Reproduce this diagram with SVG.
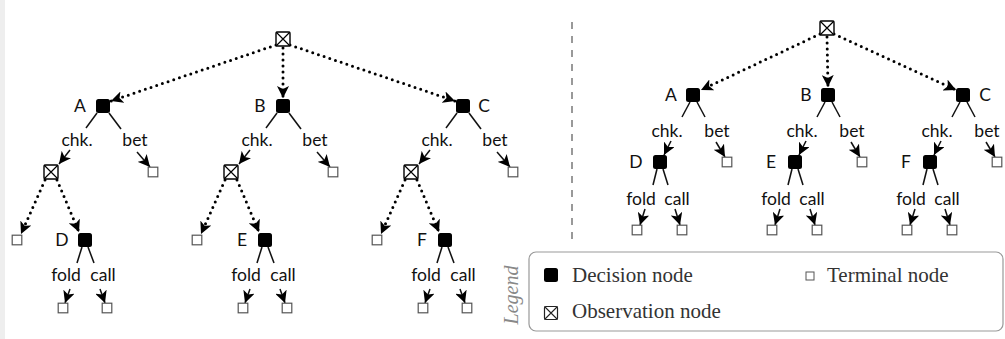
<svg xmlns="http://www.w3.org/2000/svg" width="1005" height="339" viewBox="0 0 1005 339">
<style>
.dec{fill:#000}
.obs{fill:#fff;stroke:#000;stroke-width:1.4}
.obx{stroke:#000;stroke-width:1.2;fill:none}
.term{fill:#fff;stroke:#555;stroke-width:1.2}
.lbl{font-family:Lato,"Liberation Sans",sans-serif;font-size:17.5px;fill:#111}
.mid{text-anchor:middle}
.sol{stroke:#111;stroke-width:1.5;fill:none;marker-end:url(#ah)}
.sl{stroke:#111;stroke-width:1.5;fill:none}
.dot{stroke:#000;stroke-width:3;stroke-linecap:round;stroke-dasharray:0 6;fill:none;marker-end:url(#ah)}
.leg{font-family:"Liberation Serif",serif;font-size:21px;fill:#333}
</style>
<defs>
<marker id="ah" markerUnits="userSpaceOnUse" markerWidth="12" markerHeight="12" viewBox="0 0 10 10" refX="10" refY="5" orient="auto">
<path d="M0,0 L10,5 L0,10 L2.5,5 z" fill="#000"/>
</marker>
<g id="sobs"><rect class="obs" x="-7" y="-7" width="14" height="14" rx="1.5"/><path class="obx" d="M-7,-7 L7,7 M7,-7 L-7,7"/></g>
<rect id="sdec" class="dec" x="-7" y="-7" width="14" height="14" rx="2.5"/>
<rect id="sterm" class="term" x="-4.8" y="-4.8" width="9.6" height="9.6"/>
</defs>
<rect x="0" y="0" width="5" height="339" fill="#eeeeee"/>
<rect width="1000" height="339" x="5" fill="#fff"/>

<g id="connectors">
<path class="dot" d="M276,45 L111,101"/>
<path class="dot" d="M283,48 L283,98"/>
<path class="dot" d="M290,45 L455,101"/>
<g>
<path class="sl" d="M97,113 L86,128"/><path class="sol" d="M70,150 L59,164"/>
<path class="sl" d="M109,113 L121,129"/><path class="sol" d="M137,152 L150,167"/>
<path class="dot" d="M45,180 L21,234"/><path class="dot" d="M57,180 L79,232"/>
<path class="sl" d="M82,247 L77,263"/><path class="sol" d="M70,289 L65,303"/>
<path class="sl" d="M88,247 L94,263"/><path class="sol" d="M100,289 L105,303"/>
</g>
<g transform="translate(180,0)">
<path class="sl" d="M97,113 L86,128"/><path class="sol" d="M70,150 L59,164"/>
<path class="sl" d="M109,113 L121,129"/><path class="sol" d="M137,152 L150,167"/>
<path class="dot" d="M45,180 L21,234"/><path class="dot" d="M57,180 L79,232"/>
<path class="sl" d="M82,247 L77,263"/><path class="sol" d="M70,289 L65,303"/>
<path class="sl" d="M88,247 L94,263"/><path class="sol" d="M100,289 L105,303"/>
</g>
<g transform="translate(360,0)">
<path class="sl" d="M97,113 L86,128"/><path class="sol" d="M70,150 L59,164"/>
<path class="sl" d="M109,113 L121,129"/><path class="sol" d="M137,152 L150,167"/>
<path class="dot" d="M45,180 L21,234"/><path class="dot" d="M57,180 L79,232"/>
<path class="sl" d="M82,247 L77,263"/><path class="sol" d="M70,289 L65,303"/>
<path class="sl" d="M88,247 L94,263"/><path class="sol" d="M100,289 L105,303"/>
</g>
<path class="dot" d="M820,34 L701,90"/>
<path class="dot" d="M827,37 L828,87"/>
<path class="dot" d="M834,34 L956,90"/>
<g>
<path class="sl" d="M690,102 L682,117"/><path class="sol" d="M671,141 L664,155"/>
<path class="sl" d="M697,102 L705,117"/><path class="sol" d="M716,142 L725,157"/>
<path class="sl" d="M657,169 L653,185"/><path class="sol" d="M645,209 L640,225"/>
<path class="sl" d="M663,169 L668,185"/><path class="sol" d="M675,209 L680,225"/>
</g>
<g transform="translate(135,0)">
<path class="sl" d="M690,102 L682,117"/><path class="sol" d="M671,141 L664,155"/>
<path class="sl" d="M697,102 L705,117"/><path class="sol" d="M716,142 L725,157"/>
<path class="sl" d="M657,169 L653,185"/><path class="sol" d="M645,209 L640,225"/>
<path class="sl" d="M663,169 L668,185"/><path class="sol" d="M675,209 L680,225"/>
</g>
<g transform="translate(270,0)">
<path class="sl" d="M690,102 L682,117"/><path class="sol" d="M671,141 L664,155"/>
<path class="sl" d="M697,102 L705,117"/><path class="sol" d="M716,142 L725,157"/>
<path class="sl" d="M657,169 L653,185"/><path class="sol" d="M645,209 L640,225"/>
<path class="sl" d="M663,169 L668,185"/><path class="sol" d="M675,209 L680,225"/>
</g>
</g>

<line x1="572" y1="22" x2="572" y2="242" stroke="#999" stroke-width="2" stroke-dasharray="7 7"/>

<g id="L-root"><use href="#sobs" x="283" y="39"/></g>
<g id="L-A"><use href="#sdec" x="103" y="106"/><text class="lbl mid" x="80" y="112">A</text></g>
<g id="L-B"><use href="#sdec" x="283" y="106"/><text class="lbl mid" x="260" y="112">B</text></g>
<g id="L-C"><use href="#sdec" x="463" y="106"/><text class="lbl mid" x="484" y="112">C</text></g>
<g id="L-labels1"><text class="lbl mid" x="77" y="146">chk.</text><text class="lbl mid" x="135" y="146">bet</text>
<text class="lbl mid" x="66" y="281">fold</text><text class="lbl mid" x="103" y="281">call</text></g>
<g id="L-labels2"><text class="lbl mid" x="257" y="146">chk.</text><text class="lbl mid" x="315" y="146">bet</text>
<text class="lbl mid" x="246" y="281">fold</text><text class="lbl mid" x="283" y="281">call</text></g>
<g id="L-labels3"><text class="lbl mid" x="437" y="146">chk.</text><text class="lbl mid" x="495" y="146">bet</text>
<text class="lbl mid" x="426" y="281">fold</text><text class="lbl mid" x="463" y="281">call</text></g>
<g id="L-A-obs"><use href="#sobs" x="51" y="172"/></g>
<g id="L-B-obs"><use href="#sobs" x="231" y="172"/></g>
<g id="L-C-obs"><use href="#sobs" x="411" y="172"/></g>
<g id="L-A-bet"><use href="#sterm" x="153" y="172"/></g>
<g id="L-B-bet"><use href="#sterm" x="333" y="172"/></g>
<g id="L-C-bet"><use href="#sterm" x="513" y="172"/></g>
<g id="L-A-t"><use href="#sterm" x="17" y="240"/></g>
<g id="L-B-t"><use href="#sterm" x="197" y="240"/></g>
<g id="L-C-t"><use href="#sterm" x="377" y="240"/></g>
<g id="L-D"><use href="#sdec" x="85" y="240"/><text class="lbl mid" x="62" y="246">D</text></g>
<g id="L-E"><use href="#sdec" x="265" y="240"/><text class="lbl mid" x="242" y="246">E</text></g>
<g id="L-F"><use href="#sdec" x="445" y="240"/><text class="lbl mid" x="422" y="246">F</text></g>
<g id="L-D-fold"><use href="#sterm" x="63" y="308"/></g>
<g id="L-D-call"><use href="#sterm" x="107" y="308"/></g>
<g id="L-E-fold"><use href="#sterm" x="243" y="308"/></g>
<g id="L-E-call"><use href="#sterm" x="287" y="308"/></g>
<g id="L-F-fold"><use href="#sterm" x="423" y="308"/></g>
<g id="L-F-call"><use href="#sterm" x="467" y="308"/></g>

<g id="R-root"><use href="#sobs" x="827" y="28"/></g>
<g id="R-A"><use href="#sdec" x="693" y="95"/><text class="lbl mid" x="671" y="101">A</text></g>
<g id="R-B"><use href="#sdec" x="828" y="95"/><text class="lbl mid" x="806" y="101">B</text></g>
<g id="R-C"><use href="#sdec" x="963" y="95"/><text class="lbl mid" x="985" y="101">C</text></g>
<g id="R-labels"><text class="lbl mid" x="667" y="137">chk.</text><text class="lbl mid" x="717" y="137">bet</text>
<text class="lbl mid" x="802" y="137">chk.</text><text class="lbl mid" x="852" y="137">bet</text>
<text class="lbl mid" x="937" y="137">chk.</text><text class="lbl mid" x="987" y="137">bet</text>
<text class="lbl mid" x="641" y="205">fold</text><text class="lbl mid" x="677" y="205">call</text>
<text class="lbl mid" x="776" y="205">fold</text><text class="lbl mid" x="812" y="205">call</text>
<text class="lbl mid" x="911" y="205">fold</text><text class="lbl mid" x="947" y="205">call</text></g>
<g id="R-D"><use href="#sdec" x="660" y="162"/><text class="lbl mid" x="636" y="168">D</text></g>
<g id="R-E"><use href="#sdec" x="795" y="162"/><text class="lbl mid" x="771" y="168">E</text></g>
<g id="R-F"><use href="#sdec" x="930" y="162"/><text class="lbl mid" x="906" y="168">F</text></g>
<g id="R-A-bet"><use href="#sterm" x="727" y="162"/></g>
<g id="R-B-bet"><use href="#sterm" x="862" y="162"/></g>
<g id="R-C-bet"><use href="#sterm" x="997" y="162"/></g>
<g id="R-D-fold"><use href="#sterm" x="637" y="230"/></g>
<g id="R-D-call"><use href="#sterm" x="682" y="230"/></g>
<g id="R-E-fold"><use href="#sterm" x="772" y="230"/></g>
<g id="R-E-call"><use href="#sterm" x="817" y="230"/></g>
<g id="R-F-fold"><use href="#sterm" x="907" y="230"/></g>
<g id="R-F-call"><use href="#sterm" x="952" y="230"/></g>

<g id="legend">
<rect x="529" y="252" width="474" height="79" rx="7" fill="#fff" stroke="#999" stroke-width="1.2"/>
<text transform="translate(518,295) rotate(-90)" text-anchor="middle" font-family="'Liberation Serif',serif" font-style="italic" font-size="20" fill="#888">Legend</text>
<rect x="544" y="268" width="14" height="14" rx="2.5" fill="#000"/>
<text class="leg" x="572" y="282">Decision node</text>
<rect x="806" y="272" width="8" height="8" fill="#fff" stroke="#555" stroke-width="1"/>
<text class="leg" x="827" y="282">Terminal node</text>
<rect x="544.5" y="306.5" width="13" height="13" rx="1.5" fill="#fff" stroke="#222" stroke-width="1.2"/>
<path d="M544.5,306.5 L557.5,319.5 M557.5,306.5 L544.5,319.5" stroke="#222" stroke-width="1.1"/>
<text class="leg" x="572" y="318">Observation node</text>
</g>
</svg>
